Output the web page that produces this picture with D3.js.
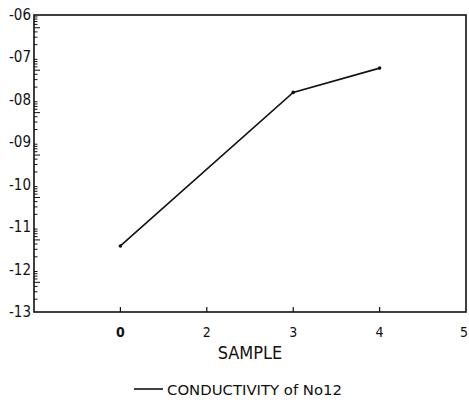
<!DOCTYPE html>
<html>
<head>
<meta charset="utf-8">
<script src="https://cdn.jsdelivr.net/npm/d3@7"></script>
<style>
  body { margin: 0; background: #fff; }
  text { font-family: "DejaVu Sans Condensed", "Liberation Sans", sans-serif; fill: #111; }
</style>
</head>
<body>
<div id="chart"></div>
<script>
// sample categories on the x axis (first slot is empty, at the left frame edge)
var categories = ["", "0", "2", "3", "4", "5"];
// measured samples
var sampleNames = ["0", "3", "4"];
var conductivity = [3.6e-12, 1.5e-8, 5.6e-8];
// y decades (exponents of ten)
var decades = [-6, -7, -8, -9, -10, -11, -12, -13];
var seriesName = "CONDUCTIVITY of No12";

var width = 469, height = 416;
var margin = {top: 15, right: 3, bottom: 104, left: 34};

var svg = d3.select("#chart").append("svg")
    .attr("width", width)
    .attr("height", height);

var x = d3.scalePoint()
    .domain(categories)
    .range([margin.left, width - margin.right]);

var y = d3.scaleLog()
    .domain([1e-13, 1e-6])
    .range([height - margin.bottom, margin.top]);

// frame
svg.append("rect")
    .attr("x", margin.left)
    .attr("y", margin.top)
    .attr("width", width - margin.right - margin.left)
    .attr("height", height - margin.bottom - margin.top)
    .attr("fill", "none")
    .attr("stroke", "#111")
    .attr("stroke-width", 1.6);

// y minor ticks (log decades), pointing inward
var minor = [];
decades.forEach(function(e){
  if (e <= -7) {
    for (var k = 2; k <= 9; k++) minor.push({v: k * Math.pow(10, e), k: k});
  }
});
svg.selectAll(".ymin")
  .data(minor)
  .enter()
  .append("line")
    .attr("x1", margin.left)
    .attr("x2", function(d){ return margin.left + (d.k == 5 ? 6 : 3.5); })
    .attr("y1", function(d){ return y(d.v); })
    .attr("y2", function(d){ return y(d.v); })
    .attr("stroke", "#111")
    .attr("stroke-width", 1);

// y labels
svg.selectAll(".ylab")
  .data(decades)
  .enter()
  .append("text")
    .attr("x", margin.left - 3)
    .attr("y", function(d){ return y(Math.pow(10, d)) + 5; })
    .attr("text-anchor", "end")
    .attr("font-size", "15px")
    .text(function(d){ return "-" + d3.format("02")(-d); });

// x ticks, pointing up
svg.selectAll(".xtick")
  .data(categories.slice(1, 5))
  .enter()
  .append("line")
    .attr("x1", function(d){ return x(d); })
    .attr("x2", function(d){ return x(d); })
    .attr("y1", height - margin.bottom)
    .attr("y2", height - margin.bottom - 5)
    .attr("stroke", "#111")
    .attr("stroke-width", 1.2);

svg.selectAll(".xlab")
  .data(categories.slice(1))
  .enter()
  .append("text")
    .attr("x", function(d){ return d == "5" ? x(d) - 2 : x(d); })
    .attr("y", height - margin.bottom + 25)
    .attr("text-anchor", "middle")
    .attr("font-size", "14px")
    .attr("font-weight", function(d){ return d == "0" ? "bold" : "normal"; })
    .text(function(d){ return d; });

svg.append("text")
    .attr("x", 250)
    .attr("y", 359)
    .attr("text-anchor", "middle")
    .attr("font-size", "18px")
    .text("SAMPLE");

// data line
var data = sampleNames.map(function(s, i){ return {s: s, v: conductivity[i]}; });
var line = d3.line()
    .x(function(d){ return x(d.s); })
    .y(function(d){ return y(d.v); });

svg.append("path")
    .datum(data)
    .attr("d", line)
    .attr("fill", "none")
    .attr("stroke", "#111")
    .attr("stroke-width", 1.6);

svg.selectAll(".pt")
  .data(data)
  .enter()
  .append("circle")
    .attr("cx", function(d){ return x(d.s); })
    .attr("cy", function(d){ return y(d.v); })
    .attr("r", 1.8)
    .attr("fill", "#111");

// legend
svg.append("line")
    .attr("x1", 134)
    .attr("x2", 163)
    .attr("y1", 389)
    .attr("y2", 389)
    .attr("stroke", "#111")
    .attr("stroke-width", 1.6);

svg.append("text")
    .attr("x", 167)
    .attr("y", 395)
    .attr("font-size", "14px")
    .attr("textLength", 175)
    .attr("lengthAdjust", "spacingAndGlyphs")
    .text(seriesName);
</script>
</body>
</html>
